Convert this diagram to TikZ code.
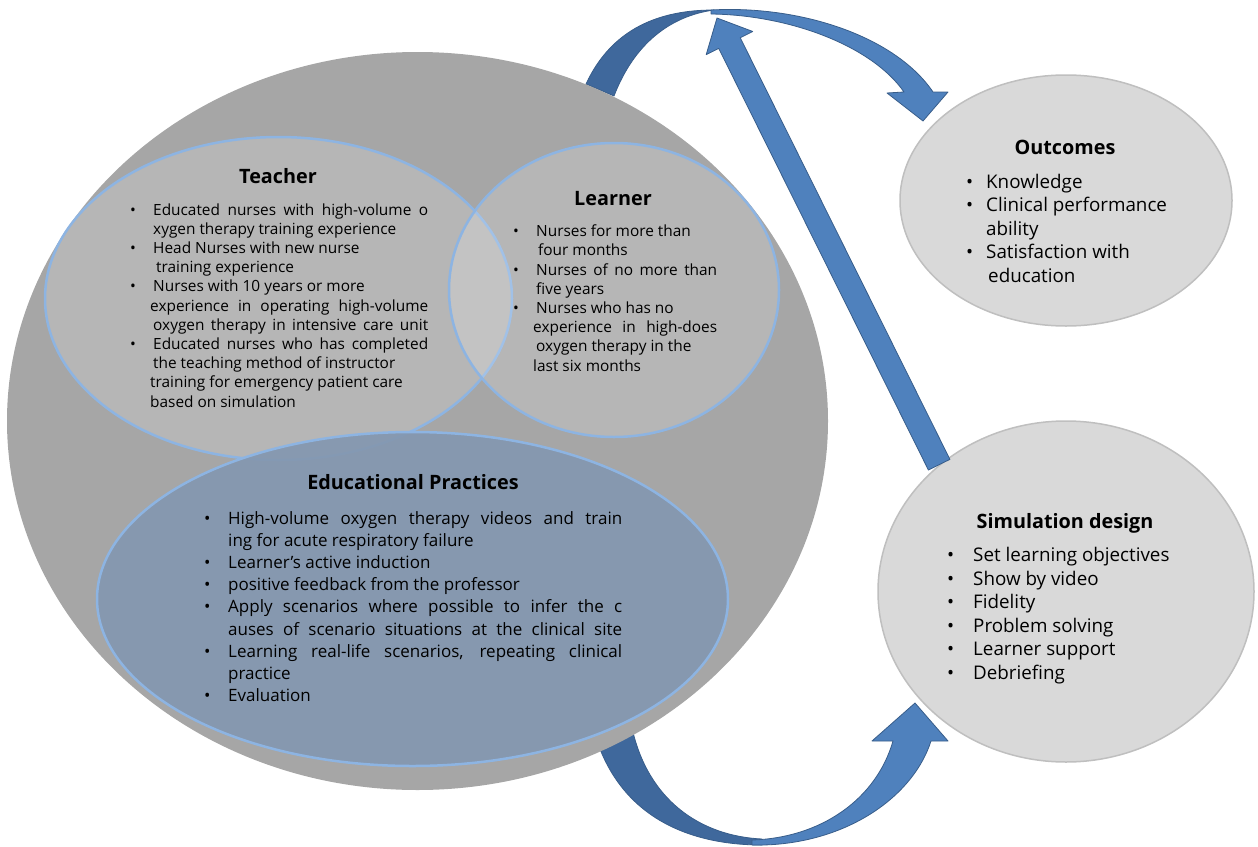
\documentclass[tikz,border=0pt]{standalone}
\usepackage{fontspec}
\setmainfont{Open Sans}
\usetikzlibrary{calc,shapes.geometric}

\definecolor{bigfill}{RGB}{166,166,166}
\definecolor{ringblue}{RGB}{141,180,226}
\definecolor{edufill}{RGB}{132,151,176}
\definecolor{sidefill}{RGB}{217,217,217}
\definecolor{sideline}{RGB}{191,191,191}
\definecolor{arrowlight}{RGB}{79,129,189}
\definecolor{arrowdark}{RGB}{63,104,156}
\definecolor{arrowedge}{RGB}{56,93,138}

% bullet hung to the left of the current line
\newcommand\bul[1][23pt]{\leavevmode\llap{\makebox[#1][l]{\textbullet}}}
% line stretched to a given width
\newcommand\spread[2]{\makebox[#1][s]{#2}}

\tikzset{
  bigdisc/.style={ellipse, fill=bigfill, inner sep=0pt},
  venn/.style={ellipse, draw=ringblue, line width=2.5pt, fill=white, fill opacity=0.18, inner sep=0pt},
  practice/.style={ellipse, draw=ringblue, line width=2.5pt, fill=edufill, fill opacity=0.92, inner sep=0pt},
  sidedisc/.style={ellipse, draw=sideline, line width=1.5pt, fill=sidefill, inner sep=0pt},
  heading/.style={anchor=base, inner sep=0pt, font=\bfseries\fontsize{19.8}{24}\selectfont},
  smalllist/.style={anchor=base west, inner sep=0pt, font=\fontsize{15.4}{19.2}\selectfont},
  midlist/.style={anchor=base west, inner sep=0pt, font=\fontsize{17}{22.2}\selectfont},
  biglist/.style={anchor=base west, inner sep=0pt, font=\fontsize{18.8}{23.5}\selectfont},
  backband/.style={fill=arrowdark, draw=arrowedge, line width=0.8pt, line join=round},
  frontband/.style={fill=arrowlight, draw=arrowedge, line width=0.8pt, line join=round},
}

\begin{document}
\begin{tikzpicture}[x=1pt, y=-1pt]
\useasboundingbox (0,0) rectangle (1258,846);

% ---- curved arrow over the top: big disc -> Outcomes
\coordinate (ta-apex) at (714,10);
\draw[backband] (586,84) .. controls (612,28) and (660,10) .. (ta-apex)
   .. controls (670,16) and (634,44) .. (614,96) -- cycle;
\draw[frontband] (711,10) .. controls (800,5) and (895,36) .. (933,92)
   -- (948,92) -- (923,121) -- (887,93) -- (904,92)
   .. controls (872,46) and (790,15) .. (711,14) -- cycle;

% ---- curved arrow under the bottom: big disc -> Simulation design
\draw[backband] (596,738) .. controls (622,818) and (690,845) .. (762,845)
   -- (762,839) .. controls (700,836) and (648,800) .. (632,728) -- cycle;
\draw[frontband] (752,845) .. controls (840,847) and (912,800) .. (931,741)
   -- (948,741) -- (915,703) -- (872,741) -- (893,741)
   .. controls (876,800) and (820,838) .. (752,840) -- cycle;

% ---- discs
\node[bigdisc, minimum width=821pt, minimum height=738pt] (big) at (417.5,421) {};
\node[venn, minimum width=467pt, minimum height=323pt] (teacher) at (278.5,298.5) {};
\node[venn, minimum width=330pt, minimum height=294pt] (learner) at (614,290) {};
\node[practice, minimum width=631pt, minimum height=334pt] (practice) at (412.5,599) {};
\node[sidedisc, minimum width=332pt, minimum height=251pt] (outcomes) at (1066,200.5) {};
\node[sidedisc, minimum width=376pt, minimum height=341pt] (sim) at (1066,591.5) {};

% ---- straight arrow: Simulation design -> top arc
\coordinate (up-tail) at (sim.135);
\coordinate (up-tip) at (717,18);
\coordinate (up-neck) at ($(up-tip)!28pt!(up-tail)$);
\draw[frontband]
  ($(up-tail)!12pt!90:(up-tip)$) -- ($(up-neck)!12pt!90:(up-tip)$)
  -- ($(up-neck)!26pt!90:(up-tip)$) -- (up-tip)
  -- ($(up-neck)!26pt!-90:(up-tip)$) -- ($(up-neck)!12pt!-90:(up-tip)$)
  -- ($(up-tail)!12pt!-90:(up-tip)$) -- cycle;

% ---- Teacher
\node[heading] (teacher-title) at (278,183) {Teacher};
\node[smalllist] (teacher-list) at (153,215) {\parbox[t]{400pt}{\raggedright
\bul\spread{275pt}{Educated nurses with high-volume o}\\
xygen therapy training experience\\
\bul Head Nurses with new nurse\\
\hspace*{3pt}training experience\\
\bul Nurses with 10 years or more\\
\hspace*{-3pt}\spread{278pt}{experience in operating high-volume}\\
\spread{275pt}{oxygen therapy in intensive care unit}\\
\bul\spread{275pt}{Educated nurses who has completed}\\
the teaching method of instructor\\
\hspace*{-3pt}training for emergency patient care\\
\hspace*{-3pt}based on simulation}};

% ---- Learner
\node[heading] (learner-title) at (613,205) {Learner};
\node[smalllist] (learner-list) at (536,236.7) {\parbox[t]{300pt}{\raggedright
\bul Nurses for more than\\
\hspace*{2pt}four months\\
\bul\spread{181pt}{Nurses of no more than}\\
five years\\
\bul Nurses who has no\\
\hspace*{-3pt}\spread{184pt}{experience in high-does}\\
oxygen therapy in the\\
\hspace*{-3pt}last six months}};

% ---- Educational Practices
\node[heading] (practice-title) at (413,489) {Educational Practices};
\node[midlist] (practice-list) at (228,524) {\parbox[t]{500pt}{\raggedright
\bul[24pt]\spread{394pt}{High-volume oxygen therapy videos and train}\\
ing for acute respiratory failure\\
\bul[24pt]Learner's active induction\\
\bul[24pt]positive feedback from the professor\\
\bul[24pt]\spread{394pt}{Apply scenarios where possible to infer the c}\\
\spread{394pt}{auses of scenario situations at the clinical site}\\
\bul[24pt]\spread{394pt}{Learning real-life scenarios, repeating clinical}\\
practice\\
\bul[24pt]Evaluation}};

% ---- Outcomes
\node[heading] (outcomes-title) at (1065,154) {Outcomes};
\node[biglist] (outcomes-list) at (986,188.3) {\parbox[t]{300pt}{\raggedright
\bul[20pt]Knowledge\\
\bul[20pt]Clinical performance\\
ability\\
\bul[20pt]Satisfaction with\\
\hspace*{2pt}education}};

% ---- Simulation design
\node[heading] (sim-title) at (1065,528) {Simulation design};
\node[biglist] (sim-list) at (973,561.7) {\parbox[t]{300pt}{\raggedright
\bul[26pt]Set learning objectives\\
\bul[26pt]Show by video\\
\bul[26pt]Fidelity\\
\bul[26pt]Problem solving\\
\bul[26pt]Learner support\\
\bul[26pt]Debriefing}};
\end{tikzpicture}
\end{document}
